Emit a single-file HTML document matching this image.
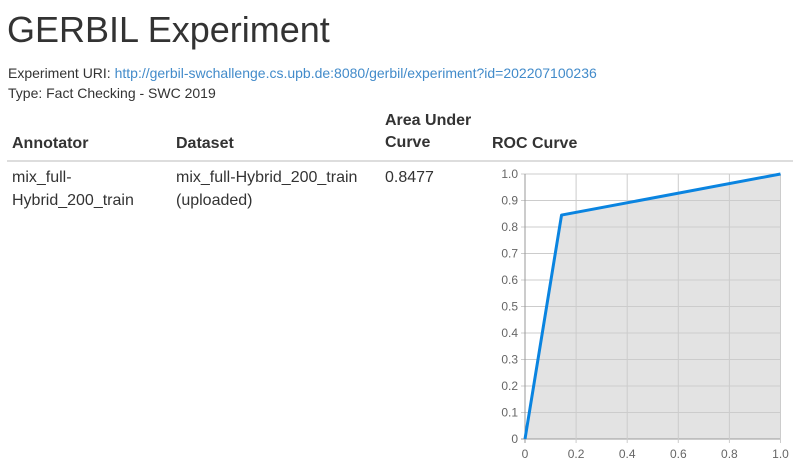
<!DOCTYPE html>
<html><head><meta charset="utf-8"><style>
body{margin:0;width:793px;height:471px;overflow:hidden;background:#fff;font-family:"Liberation Sans",sans-serif;color:#333;position:relative}
.a{position:absolute;white-space:nowrap}
h1{position:absolute;left:7px;top:8px;margin:0;font-weight:normal;font-size:36px;line-height:44px;color:#333}
.s{font-size:14px}
.th{font-size:16px;font-weight:bold;line-height:22px}
.td{font-size:16px;line-height:23px}
a{color:#428bca;text-decoration:none}
</style></head><body>
<h1>GERBIL Experiment</h1>
<div class="a s" style="left:8px;top:65px">Experiment URI: <a href="#">http://gerbil-swchallenge.cs.upb.de:8080/gerbil/experiment?id=202207100236</a></div>
<div class="a s" style="left:8px;top:85px">Type: Fact Checking - SWC 2019</div>
<div class="a th" style="left:12px;top:133px">Annotator</div>
<div class="a th" style="left:176px;top:133px">Dataset</div>
<div class="a th" style="left:385px;top:110px">Area Under<br>Curve</div>
<div class="a th" style="left:492px;top:133px">ROC Curve</div>
<div class="a" style="left:7px;top:160px;width:786px;height:2px;background:#ddd"></div>
<div class="a td" style="left:12px;top:166px">mix_full-<br>Hybrid_200_train</div>
<div class="a td" style="left:176px;top:166px">mix_full-Hybrid_200_train<br>(uploaded)</div>
<div class="a td" style="left:385px;top:166px">0.8477</div>
<svg id="roc" class="a" style="left:0;top:0" width="793" height="471"></svg>
<script>
const fpr=[0,0.143,1];
const tpr=[0,0.845,1];
const yTicks=[0,0.1,0.2,0.3,0.4,0.5,0.6,0.7,0.8,0.9,1.0];
const yLabels=["0","0.1","0.2","0.3","0.4","0.5","0.6","0.7","0.8","0.9","1.0"];
const xTicks=[0,0.2,0.4,0.6,0.8,1.0];
const xLabels=["0","0.2","0.4","0.6","0.8","1.0"];
const X0=525,X1=780.5,Y0=439,Y1=174;
const sx=v=>X0+v*(X1-X0), sy=v=>Y0-v*(Y0-Y1);
const svg=document.getElementById('roc'),NS='http://www.w3.org/2000/svg';
function mk(t,a){const e=document.createElementNS(NS,t);for(const k in a)e.setAttribute(k,a[k]);svg.appendChild(e);return e;}
let pts=fpr.map((v,i)=>sx(v)+','+sy(tpr[i])).join(' ');
let area=mk('polygon',{points:pts+' '+sx(fpr[fpr.length-1])+','+sy(0)+' '+sx(fpr[0])+','+sy(0),fill:'#e3e3e3'});


yTicks.forEach((v,i)=>{
 const g=mk('line',{x1:X0-4,x2:X1,y1:sy(v),y2:sy(v),stroke:i==0?'#999':'#ccc','stroke-width':1});
 
 
 const t=mk('text',{x:X0-7,y:sy(v)+4,'text-anchor':'end','font-size':12,fill:'#666','font-family':'Liberation Sans, sans-serif'});
 t.textContent=yLabels[i];
 
 
});
xTicks.forEach((v,i)=>{
 const g=mk('line',{x1:sx(v),x2:sx(v),y1:Y1,y2:Y0+4,stroke:i==0?'#999':'#ccc','stroke-width':1});
 
 
 const t=mk('text',{x:sx(v),y:Y0+19,'text-anchor':'middle','font-size':12,fill:'#666','font-family':'Liberation Sans, sans-serif'});
 t.textContent=xLabels[i];
 
 
});
const ln=mk('polyline',{points:pts,fill:'none',stroke:'#0a84e0','stroke-width':3,'stroke-linejoin':'round'});


</script>
</body></html>
